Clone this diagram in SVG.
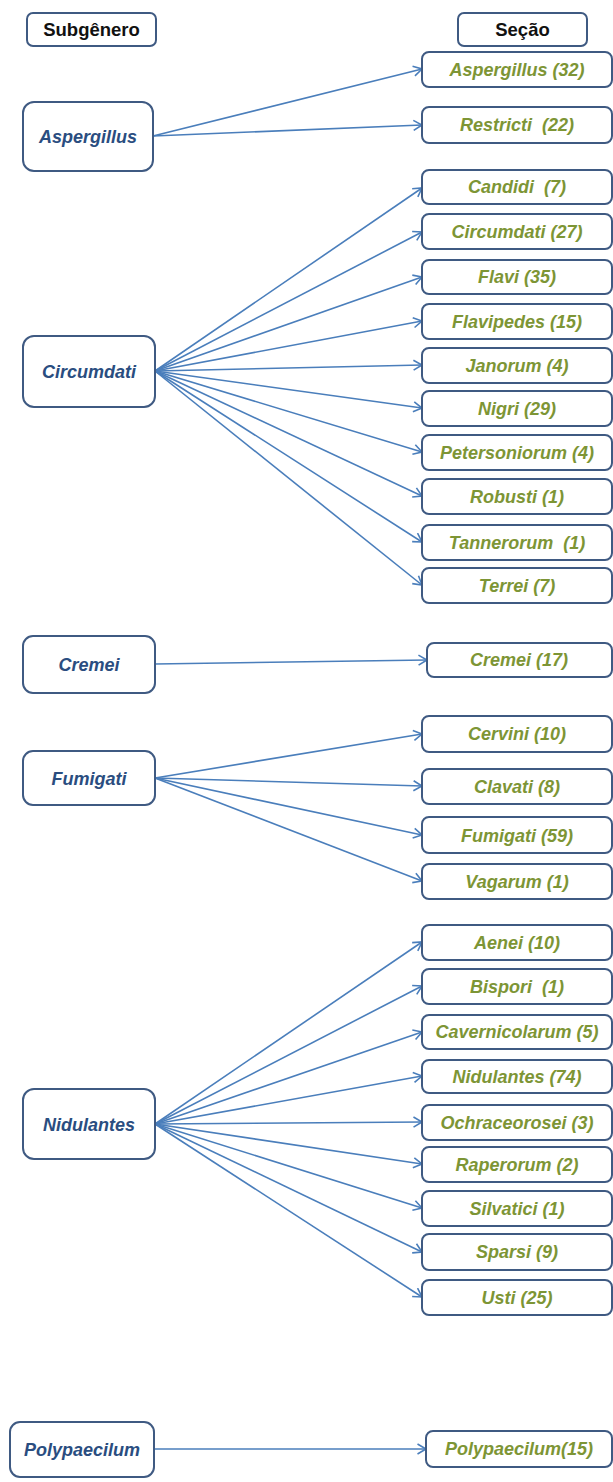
<svg xmlns="http://www.w3.org/2000/svg" width="613" height="1482" viewBox="0 0 613 1482">
<defs>
<style>
.bg{fill:#ffffff}
.box{fill:#ffffff;stroke:#3f5a82;stroke-width:2}
.hdr{font-family:"Liberation Sans",Arial,sans-serif;font-size:18.5px;font-weight:bold;fill:#111111;text-anchor:middle}
.sub{font-family:"Liberation Sans",Arial,sans-serif;font-size:18px;font-weight:bold;font-style:italic;fill:#2a4d80;text-anchor:middle}
.sec{font-family:"Liberation Sans",Arial,sans-serif;font-size:18px;font-weight:bold;font-style:italic;fill:#7d9535;text-anchor:middle;white-space:pre}
.con line{stroke:#4a7ebb;stroke-width:1.6;fill:none;marker-end:url(#arr)}
</style>
<marker id="arr" markerUnits="userSpaceOnUse" markerWidth="12" markerHeight="12" refX="10" refY="6" orient="auto">
<path d="M1.5,1 L10,6 L1.5,11" fill="none" stroke="#4a7ebb" stroke-width="1.6"/>
</marker>
</defs>
<rect class="bg" x="0" y="0" width="613" height="1482"/>

<g id="connectors" class="con">
<line x1="153" y1="136" x2="422" y2="69"/>
<line x1="153" y1="136" x2="422" y2="125"/>
<line x1="155" y1="371" x2="422" y2="188"/>
<line x1="155" y1="371" x2="422" y2="232"/>
<line x1="155" y1="371" x2="422" y2="277"/>
<line x1="155" y1="371" x2="422" y2="321"/>
<line x1="155" y1="371" x2="422" y2="365"/>
<line x1="155" y1="371" x2="422" y2="408"/>
<line x1="155" y1="371" x2="422" y2="452"/>
<line x1="155" y1="371" x2="422" y2="496"/>
<line x1="155" y1="371" x2="422" y2="542"/>
<line x1="155" y1="371" x2="422" y2="585"/>
<line x1="155" y1="664" x2="427" y2="660"/>
<line x1="155" y1="778" x2="422" y2="734"/>
<line x1="155" y1="778" x2="422" y2="786"/>
<line x1="155" y1="778" x2="422" y2="835"/>
<line x1="155" y1="778" x2="422" y2="881"/>
<line x1="155" y1="1124" x2="422" y2="942"/>
<line x1="155" y1="1124" x2="422" y2="986"/>
<line x1="155" y1="1124" x2="422" y2="1032"/>
<line x1="155" y1="1124" x2="422" y2="1076"/>
<line x1="155" y1="1124" x2="422" y2="1122"/>
<line x1="155" y1="1124" x2="422" y2="1164"/>
<line x1="155" y1="1124" x2="422" y2="1208"/>
<line x1="155" y1="1124" x2="422" y2="1252"/>
<line x1="155" y1="1124" x2="422" y2="1297"/>
<line x1="154" y1="1449" x2="426" y2="1449"/>
</g>

<g id="hdr-subgenero"><rect class="box" x="27" y="13" width="129" height="33" rx="6"/><text class="hdr" x="91.5" y="36">Subgênero</text></g>
<g id="hdr-secao"><rect class="box" x="458" y="13" width="129" height="33" rx="6"/><text class="hdr" x="522.5" y="36">Seção</text></g>

<g id="sg-aspergillus"><rect class="box" x="23" y="102" width="130" height="69" rx="11"/><text class="sub" x="88" y="143">Aspergillus</text></g>
<g id="sg-circumdati"><rect class="box" x="23" y="336" width="132" height="71" rx="11"/><text class="sub" x="89" y="378">Circumdati</text></g>
<g id="sg-cremei"><rect class="box" x="23" y="636" width="132" height="57" rx="10"/><text class="sub" x="89" y="671">Cremei</text></g>
<g id="sg-fumigati"><rect class="box" x="23" y="751" width="132" height="54" rx="10"/><text class="sub" x="89" y="785">Fumigati</text></g>
<g id="sg-nidulantes"><rect class="box" x="23" y="1089" width="132" height="70" rx="11"/><text class="sub" x="89" y="1131">Nidulantes</text></g>
<g id="sg-polypaecilum"><rect class="box" x="10" y="1422" width="144" height="55" rx="10"/><text class="sub" x="82" y="1456">Polypaecilum</text></g>

<g id="s-aspergillus"><rect class="box" x="422" y="52" width="190" height="35" rx="7"/><text class="sec" x="517" y="76">Aspergillus (32)</text></g>
<g id="s-restricti"><rect class="box" x="422" y="107" width="190" height="36" rx="7"/><text class="sec" x="517" y="131">Restricti  (22)</text></g>
<g id="s-candidi"><rect class="box" x="422" y="170" width="190" height="34" rx="7"/><text class="sec" x="517" y="193">Candidi  (7)</text></g>
<g id="s-circumdati"><rect class="box" x="422" y="214" width="190" height="35" rx="7"/><text class="sec" x="517" y="238">Circumdati (27)</text></g>
<g id="s-flavi"><rect class="box" x="422" y="260" width="190" height="34" rx="7"/><text class="sec" x="517" y="283">Flavi (35)</text></g>
<g id="s-flavipedes"><rect class="box" x="422" y="304" width="190" height="35" rx="7"/><text class="sec" x="517" y="328">Flavipedes (15)</text></g>
<g id="s-janorum"><rect class="box" x="422" y="348" width="190" height="35" rx="7"/><text class="sec" x="517" y="372">Janorum (4)</text></g>
<g id="s-nigri"><rect class="box" x="422" y="391" width="190" height="35" rx="7"/><text class="sec" x="517" y="415">Nigri (29)</text></g>
<g id="s-petersoniorum"><rect class="box" x="422" y="435" width="190" height="35" rx="7"/><text class="sec" x="517" y="459">Petersoniorum (4)</text></g>
<g id="s-robusti"><rect class="box" x="422" y="479" width="190" height="35" rx="7"/><text class="sec" x="517" y="503">Robusti (1)</text></g>
<g id="s-tannerorum"><rect class="box" x="422" y="525" width="190" height="35" rx="7"/><text class="sec" x="517" y="549">Tannerorum  (1)</text></g>
<g id="s-terrei"><rect class="box" x="422" y="568" width="190" height="35" rx="7"/><text class="sec" x="517" y="592">Terrei (7)</text></g>
<g id="s-cremei"><rect class="box" x="427" y="643" width="185" height="34" rx="7"/><text class="sec" x="519" y="666">Cremei (17)</text></g>
<g id="s-cervini"><rect class="box" x="422" y="716" width="190" height="36" rx="7"/><text class="sec" x="517" y="740">Cervini (10)</text></g>
<g id="s-clavati"><rect class="box" x="422" y="769" width="190" height="35" rx="7"/><text class="sec" x="517" y="793">Clavati (8)</text></g>
<g id="s-fumigati"><rect class="box" x="422" y="817" width="190" height="36" rx="7"/><text class="sec" x="517" y="842">Fumigati (59)</text></g>
<g id="s-vagarum"><rect class="box" x="422" y="864" width="190" height="35" rx="7"/><text class="sec" x="517" y="888">Vagarum (1)</text></g>
<g id="s-aenei"><rect class="box" x="422" y="925" width="190" height="35" rx="7"/><text class="sec" x="517" y="949">Aenei (10)</text></g>
<g id="s-bispori"><rect class="box" x="422" y="969" width="190" height="35" rx="7"/><text class="sec" x="517" y="993">Bispori  (1)</text></g>
<g id="s-cavernicolarum"><rect class="box" x="422" y="1015" width="190" height="34" rx="7"/><text class="sec" x="517" y="1038">Cavernicolarum (5)</text></g>
<g id="s-nidulantes"><rect class="box" x="422" y="1060" width="190" height="33" rx="7"/><text class="sec" x="517" y="1083">Nidulantes (74)</text></g>
<g id="s-ochraceorosei"><rect class="box" x="422" y="1105" width="190" height="35" rx="7"/><text class="sec" x="517" y="1129">Ochraceorosei (3)</text></g>
<g id="s-raperorum"><rect class="box" x="422" y="1147" width="190" height="35" rx="7"/><text class="sec" x="517" y="1171">Raperorum (2)</text></g>
<g id="s-silvatici"><rect class="box" x="422" y="1191" width="190" height="35" rx="7"/><text class="sec" x="517" y="1215">Silvatici (1)</text></g>
<g id="s-sparsi"><rect class="box" x="422" y="1234" width="190" height="36" rx="7"/><text class="sec" x="517" y="1258">Sparsi (9)</text></g>
<g id="s-usti"><rect class="box" x="422" y="1280" width="190" height="35" rx="7"/><text class="sec" x="517" y="1304">Usti (25)</text></g>
<g id="s-polypaecilum"><rect class="box" x="426" y="1431" width="186" height="36" rx="7"/><text class="sec" x="519" y="1455">Polypaecilum(15)</text></g>
</svg>
